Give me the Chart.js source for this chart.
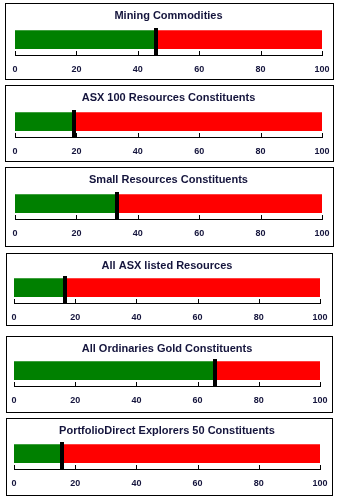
<!DOCTYPE html>
<html>
<head>
<meta charset="utf-8">
<script src="https://cdn.jsdelivr.net/npm/chart.js@4.4.1/dist/chart.umd.min.js"></script>
<style>
  html, body { margin: 0; padding: 0; background: #fff; }
  body { width: 337px; height: 501px; position: relative; overflow: hidden; }
  .panel { position: absolute; border: 1px solid #000; background: #fff; box-sizing: border-box; }
  .panel canvas { position: absolute; left: 0; }
</style>
</head>
<body>
<div id="wrap"></div>
<script>
// chart data
const titles = [
  "Mining Commodities",
  "ASX 100 Resources Constituents",
  "Small Resources Constituents",
  "All ASX listed Resources",
  "All Ordinaries Gold Constituents",
  "PortfolioDirect Explorers 50 Constituents"
];
const values = [46, 19.3, 33.2, 16.8, 65.7, 15.7];
const axisMin = 0;
const axisMax = 100;
const tickValues = [0, 20, 40, 60, 80, 100];

// panel boxes (layout only)
const tops = [3, 85, 167, 253, 336, 418];
const heights = [77, 77, 80, 73, 77, 78];
const lefts = [5, 5, 5, 6, 6, 6];
const widths = [329, 329, 329, 327, 327, 327];
const shiftY = [0, 0, 0, -2, -2, -1];
const padL = [9, 9, 9, 7, 7, 7];
const padR = [11, 11, 11, 12, 12, 12];

const FONT = "'Liberation Sans', Arial, sans-serif";

// axis line with upward ticks + black marker at the value
const gaugeMarks = {
  id: "gaugeMarks",
  afterDatasetsDraw(chart, args, opts) {
    const { ctx, chartArea, scales } = chart;
    const x = scales.x;
    const y0 = Math.round(chartArea.bottom);
    ctx.save();
    ctx.strokeStyle = "#000";
    ctx.lineWidth = 1;
    ctx.beginPath();
    ctx.moveTo(Math.round(x.getPixelForValue(axisMin)), y0 + 0.5);
    ctx.lineTo(Math.round(x.getPixelForValue(axisMax)) + 1, y0 + 0.5);
    tickValues.forEach((t) => {
      const px = Math.round(x.getPixelForValue(t)) + 0.5;
      ctx.moveTo(px, y0 + 0.5);
      ctx.lineTo(px, y0 - 4);
    });
    ctx.stroke();

    const bar = chart.getDatasetMeta(0).data[0];
    const top = Math.round(bar.y - bar.height / 2 - 3);
    const mx = x.getPixelForValue(opts.value);
    ctx.fillStyle = "#000";
    ctx.fillRect(Math.round(mx - 2), top, 4, y0 + 1 - top);
    ctx.restore();
  }
};

const wrap = document.getElementById("wrap");

titles.forEach((title, i) => {
  const panel = document.createElement("div");
  panel.className = "panel";
  panel.style.left = lefts[i] + "px";
  panel.style.top = tops[i] + "px";
  panel.style.width = widths[i] + "px";
  panel.style.height = heights[i] + "px";
  const cv = document.createElement("canvas");
  cv.width = widths[i] - 2;
  cv.height = 72;
  cv.style.top = shiftY[i] + "px";
  panel.appendChild(cv);
  wrap.appendChild(panel);

  const v = values[i];

  new Chart(cv, {
    type: "bar",
    data: {
      labels: [title],
      datasets: [
        { data: [[axisMin, v]], backgroundColor: "#008000" },
        { data: [[v, axisMax]], backgroundColor: "#ff0000" }
      ]
    },
    options: {
      indexAxis: "y",
      responsive: false,
      animation: false,
      events: [],
      datasets: {
        bar: { grouped: false, barThickness: 18, borderWidth: 0, borderSkipped: false }
      },
      layout: { padding: { left: padL[i], right: padR[i], top: 0, bottom: 0 } },
      plugins: {
        legend: { display: false },
        tooltip: { enabled: false },
        title: {
          display: true,
          text: title,
          color: "#14143c",
          font: { family: FONT, size: 11, weight: "bold" },
          padding: { top: 5 - shiftY[i], bottom: 1.8 + shiftY[i] }
        },
        gaugeMarks: { value: v }
      },
      scales: {
        x: {
          type: "linear",
          min: axisMin,
          max: axisMax,
          afterBuildTicks: (s) => { s.ticks = tickValues.map((t) => ({ value: t })); },
          grid: { display: false, drawTicks: true, tickLength: 8 },
          border: { display: false },
          ticks: {
            color: "#14143c",
            font: { family: FONT, size: 9, weight: "bold" },
            padding: 1,
            maxRotation: 0,
            autoSkip: false
          }
        },
        y: { display: false }
      }
    },
    plugins: [gaugeMarks]
  });
});
</script>
</body>
</html>
